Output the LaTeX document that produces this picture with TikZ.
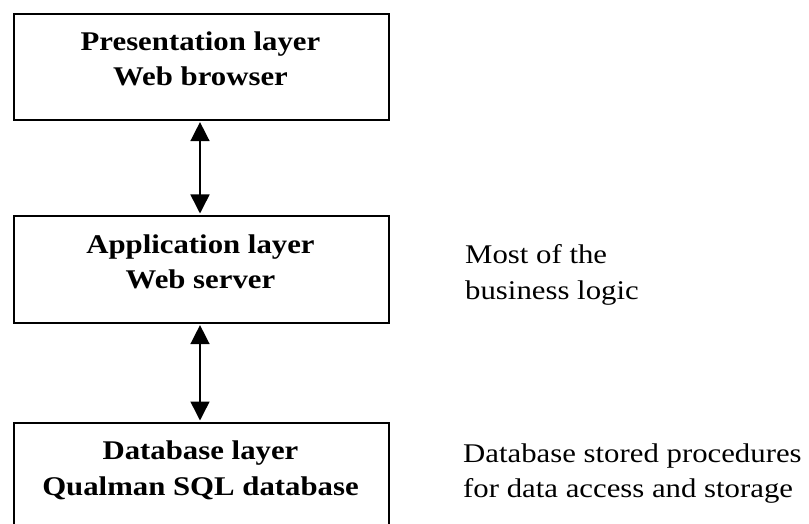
\documentclass[tikz,border=0pt]{standalone}
\usepackage{fontspec}
\setmainfont{Liberation Serif}[FakeStretch=1.14]
\usetikzlibrary{arrows.meta}
\begin{document}
\begin{tikzpicture}[x=1pt,y=-1pt,
  layerbox/.style={draw,line width=1.6pt,minimum width=375pt,inner sep=0pt,anchor=north west},
  boldline/.style={anchor=base,inner sep=0pt,font=\fontsize{27}{32}\selectfont\bfseries},
  noteline/.style={anchor=base west,inner sep=0pt,font=\fontsize{27}{32}\selectfont},
  link/.style={line width=1.5pt,{Triangle[length=19pt,width=19pt]}-{Triangle[length=19pt,width=19pt]},shorten <=1.5pt,shorten >=1.5pt}]
\useasboundingbox (0,0) rectangle (809,524);
\clip (0,0) rectangle (809,524);
% boxes
\node[layerbox,minimum height=106pt] (pres) at (13,13) {};
\node[layerbox,minimum height=107pt] (app) at (13,215) {};
\node[layerbox,minimum height=130pt] (db) at (13,422) {};
% box texts
\node[boldline] (pres1) at (200.5,51) {Presentation layer};
\node[boldline] (pres2) at (200.5,86) {Web browser};
\node[boldline] (app1) at (200.5,253) {Application layer};
\node[boldline] (app2) at (200.5,288) {Web server};
\node[boldline] (db1) at (200.5,459) {Database layer};
\node[boldline] (db2) at (200.5,495) {Qualman SQL database};
% notes
\node[noteline] (n1) at (465,263) {Most of the};
\node[noteline] (n2) at (465,299) {business logic};
\node[noteline] (n3) at (463,462) {Database stored procedures};
\node[noteline] (n4) at (463,497) {for data access and storage};
% connectors
\draw[link] (pres.south -| 200,0) -- (app.north -| 200,0);
\draw[link] (app.south -| 200,0) -- (db.north -| 200,0);
\end{tikzpicture}
\end{document}
